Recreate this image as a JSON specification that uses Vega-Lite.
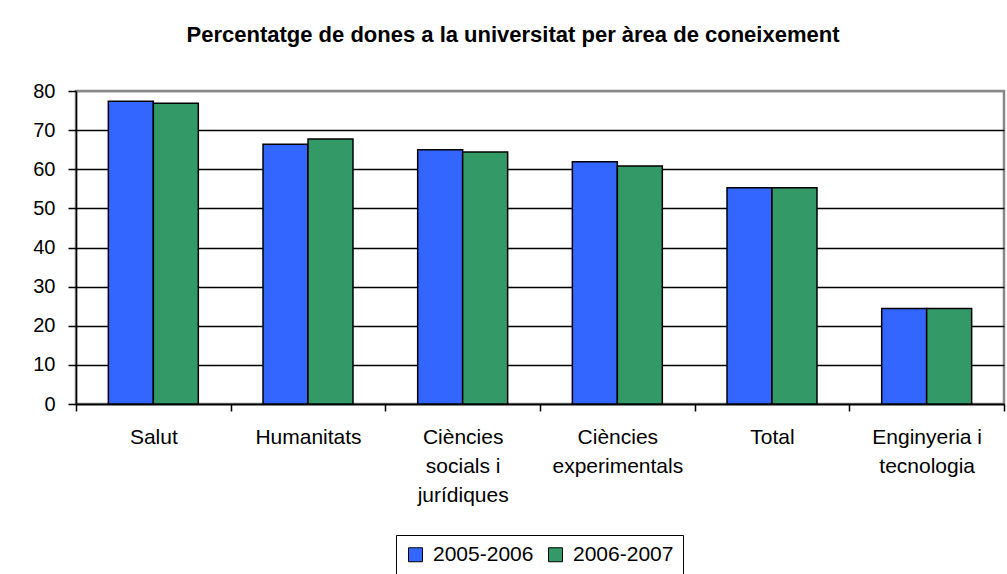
{
  "$schema": "https://vega.github.io/schema/vega-lite/v6.json",
  "autosize": "none",
  "width": 928,
  "height": 313,
  "padding": {"left": 76, "top": 91, "right": 3, "bottom": 170},
  "background": "white",
  "title": {
    "text": "Percentatge de dones a la universitat per àrea de coneixement",
    "font": "Liberation Sans",
    "fontSize": 22,
    "fontWeight": "bold",
    "color": "black",
    "anchor": "middle",
    "dx": -27,
    "offset": 34
  },
  "data": {
    "values": [
      {"area": "Salut", "curs": "2005-2006", "pct": 77.4},
      {"area": "Salut", "curs": "2006-2007", "pct": 76.9},
      {"area": "Humanitats", "curs": "2005-2006", "pct": 66.4},
      {"area": "Humanitats", "curs": "2006-2007", "pct": 67.7},
      {"area": "Ciències socials i jurídiques", "curs": "2005-2006", "pct": 65.0},
      {"area": "Ciències socials i jurídiques", "curs": "2006-2007", "pct": 64.4},
      {"area": "Ciències experimentals", "curs": "2005-2006", "pct": 61.9},
      {"area": "Ciències experimentals", "curs": "2006-2007", "pct": 60.8},
      {"area": "Total", "curs": "2005-2006", "pct": 55.3},
      {"area": "Total", "curs": "2006-2007", "pct": 55.3},
      {"area": "Enginyeria i tecnologia", "curs": "2005-2006", "pct": 24.4},
      {"area": "Enginyeria i tecnologia", "curs": "2006-2007", "pct": 24.4}
    ]
  },
  "mark": {"type": "bar", "stroke": "black", "strokeWidth": 1.5},
  "encoding": {
    "x": {
      "field": "area",
      "type": "nominal",
      "sort": ["Salut", "Humanitats", "Ciències socials i jurídiques", "Ciències experimentals", "Total", "Enginyeria i tecnologia"],
      "scale": {"paddingInner": 0, "paddingOuter": 0},
      "axis": {
        "title": null,
        "labelAngle": 0,
        "tickBand": "extent",
        "tickSize": 7,
        "tickColor": "black",
        "tickWidth": 1.5,
        "domainColor": "black",
        "domainWidth": 1.5,
        "labelFont": "Liberation Sans",
        "labelFontSize": 21,
        "labelColor": "black",
        "labelPadding": 15,
        "labelLineHeight": 29,
        "labelBaseline": "top",
        "labelLimit": 300,
        "labelExpr": "datum.value == 'Ciències socials i jurídiques' ? ['Ciències', 'socials i', 'jurídiques'] : datum.value == 'Ciències experimentals' ? ['Ciències', 'experimentals'] : datum.value == 'Enginyeria i tecnologia' ? ['Enginyeria i', 'tecnologia'] : datum.value"
      }
    },
    "xOffset": {
      "field": "curs",
      "type": "nominal",
      "scale": {"paddingInner": 0, "paddingOuter": 0.719}
    },
    "y": {
      "field": "pct",
      "type": "quantitative",
      "scale": {"domain": [0, 80], "nice": false},
      "axis": {
        "title": null,
        "values": [0, 10, 20, 30, 40, 50, 60, 70, 80],
        "grid": true,
        "gridColor": {"condition": {"test": "datum.value === 80", "value": "#888888"}, "value": "black"},
        "gridWidth": 1.5,
        "gridOpacity": 1,
        "tickSize": 8,
        "tickColor": "black",
        "tickWidth": 1.5,
        "domainColor": "black",
        "domainWidth": 1.5,
        "labelFont": "Liberation Sans",
        "labelFontSize": 20,
        "labelColor": "black",
        "labelPadding": 13
      }
    },
    "color": {
      "field": "curs",
      "type": "nominal",
      "scale": {"domain": ["2005-2006", "2006-2007"], "range": ["#3366FF", "#339966"]},
      "legend": {
        "title": null,
        "orient": "none",
        "direction": "horizontal",
        "legendX": 320,
        "legendY": 444,
        "strokeColor": "black",
        "padding": 9,
        "fillColor": "white",
        "symbolType": "square",
        "symbolSize": 196,
        "symbolStrokeColor": "black",
        "symbolStrokeWidth": 1,
        "symbolOpacity": 1,
        "labelFont": "Liberation Sans",
        "labelFontSize": 21,
        "labelColor": "black",
        "labelOffset": 7,
        "columnPadding": 11
      }
    }
  },
  "config": {
    "view": {"stroke": "#888888", "strokeWidth": 2.5}
  }
}
